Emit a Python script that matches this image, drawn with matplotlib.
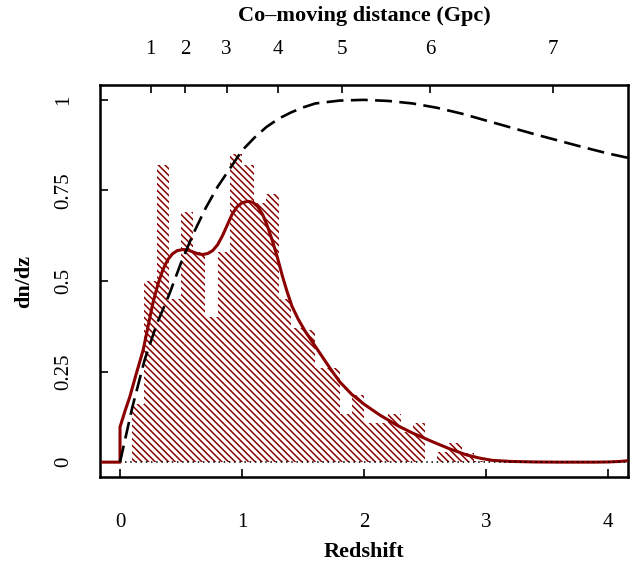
import matplotlib
matplotlib.use('Agg')
import matplotlib.pyplot as plt

plt.rcParams['font.family'] = ['Liberation Serif', 'DejaVu Serif']
plt.rcParams['hatch.linewidth'] = 1.1

# Histogram (redshift bins of width 0.1)
bin_left = [0.0, 0.1, 0.2, 0.3, 0.4, 0.5, 0.6, 0.7, 0.8, 0.9,
            1.0, 1.1, 1.2, 1.3, 1.4, 1.5, 1.6, 1.7, 1.8, 1.9,
            2.0, 2.1, 2.2, 2.3, 2.4, 2.5, 2.6, 2.7, 2.8, 2.9]
bin_height = [0.0, 0.16, 0.50, 0.82, 0.45, 0.69, 0.58, 0.40, 0.58, 0.85,
              0.82, 0.715, 0.74, 0.45, 0.37, 0.365, 0.26, 0.26, 0.133, 0.185,
              0.107, 0.107, 0.132, 0.082, 0.107, 0.0, 0.028, 0.054, 0.026, 0.004]

# Smoothed density (red curve)
red_z = [-0.164, 0.0, 0.0, 0.04, 0.08, 0.13, 0.19, 0.23, 0.27, 0.31, 0.35, 0.39,
         0.43, 0.47, 0.52, 0.56, 0.6, 0.64, 0.68, 0.72, 0.76, 0.80, 0.84, 0.88,
         0.92, 0.96, 1.0, 1.05, 1.09, 1.13, 1.17, 1.21, 1.25, 1.29, 1.33, 1.37,
         1.41, 1.46, 1.52, 1.58, 1.64, 1.72, 1.8, 1.9, 2.0, 2.13, 2.28, 2.4,
         2.55, 2.7, 2.84, 2.95, 3.05, 3.2, 3.4, 3.6, 3.9, 4.0, 4.1, 4.164]
red_v = [0.0, 0.0, 0.097, 0.14, 0.18, 0.24, 0.31, 0.375, 0.44, 0.49, 0.53, 0.558,
         0.575, 0.584, 0.587, 0.585, 0.58, 0.575, 0.573, 0.576, 0.584, 0.60, 0.625, 0.655,
         0.685, 0.705, 0.716, 0.72, 0.717, 0.705, 0.683, 0.65, 0.61, 0.565, 0.515, 0.47,
         0.43, 0.395, 0.36, 0.33, 0.30, 0.26, 0.222, 0.187, 0.16, 0.13, 0.10, 0.08,
         0.058, 0.037, 0.02, 0.011, 0.005, 0.002, 0.0005, 0.0, 0.0, 0.0005, 0.002, 0.004]

# Dashed reference curve
dash_z = [0.0, 0.1, 0.2, 0.3, 0.4, 0.5, 0.6, 0.7, 0.8, 0.9, 1.0, 1.1, 1.2, 1.3,
          1.4, 1.5, 1.6, 1.8, 2.0, 2.2, 2.4, 2.6, 2.8, 3.0, 3.2, 3.4, 3.6, 3.8,
          4.0, 4.164]
dash_v = [0.0, 0.15, 0.28, 0.38, 0.46, 0.55, 0.63, 0.70, 0.76, 0.81, 0.86, 0.895,
          0.925, 0.948, 0.965, 0.979, 0.99, 0.998, 1.0, 0.997, 0.99, 0.978, 0.962,
          0.943, 0.924, 0.905, 0.887, 0.869, 0.852, 0.84]

# Top axis: co-moving distance ticks (positions in redshift)
dist_z = [0.252, 0.532, 0.873, 1.293, 1.821, 2.54, 3.547]
dist_labels = ['1', '2', '3', '4', '5', '6', '7']

x_ticks = [0, 1, 2, 3, 4]
y_ticks = [0, 0.25, 0.5, 0.75, 1]
y_labels = ['0', '0.25', '0.5', '0.75', '1']

W, H = 641, 567
fig = plt.figure(figsize=(W / 100, H / 100), dpi=100)
ax = fig.add_axes([100 / W, 1 - 477 / H, 528 / W, 392 / H])

ax.bar(bin_left, bin_height, width=0.1, align='edge', color='none',
       edgecolor='#8b0000', linewidth=0, hatch='\\\\\\\\\\')
ax.plot(red_z, red_v, color='#8b0000', lw=2.2, solid_joinstyle='round', zorder=3)
ax.plot([0.04, 4.164], [0, 0], color='black', lw=1.1, ls=(0, (1, 2.4)), zorder=4)
ax.plot(dash_z, dash_v, color='black', lw=1.9, ls=(0, (6.4, 2.8)), zorder=5)

ax.set_xlim(-0.164, 4.164)
ax.set_ylim(-0.041, 1.041)
ax.set_xticks(x_ticks)
ax.set_yticks(y_ticks)
ax.set_yticklabels(y_labels, rotation=90, va='center')
ax.tick_params(axis='x', direction='in', length=6, width=1.2, pad=26, labelsize=15)
ax.tick_params(axis='y', direction='in', length=6, width=1.2, pad=19, labelsize=15)
for s in ax.spines.values():
    s.set_linewidth(1.8)

ax.set_xlabel('Redshift', fontsize=16, fontweight='bold', labelpad=7)
ax.set_ylabel('dn/dz', fontsize=16, fontweight='bold', labelpad=15)

ax2 = ax.twiny()
ax2.set_xlim(ax.get_xlim())
ax2.set_xticks(dist_z)
ax2.set_xticklabels(dist_labels)
ax2.tick_params(axis='x', direction='in', length=6, width=1.2, pad=18.5, labelsize=15)
ax2.set_xlabel('Co\u2013moving distance (Gpc)', fontsize=16, fontweight='bold', labelpad=14)

fig.savefig('out.png', dpi=100)
